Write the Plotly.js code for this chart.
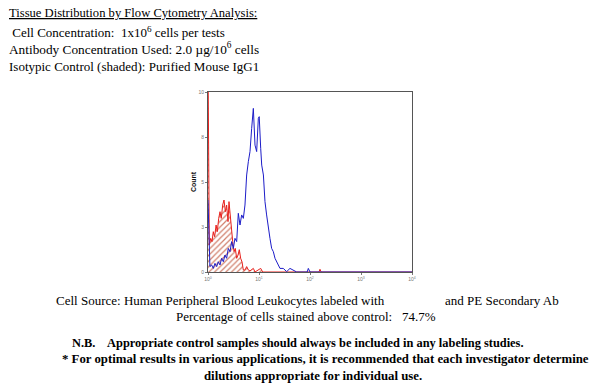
<!DOCTYPE html>
<html>
<head>
<meta charset="utf-8">
<script src="https://cdn.plot.ly/plotly-3.0.1.min.js"></script>
<style>html,body{margin:0;padding:0;background:#fff;}#chart{width:600px;height:386px;}</style>
</head>
<body>
<div id="chart"></div>
<script>
// Fluorescence intensity (log axis) and counts
const blueX = [1, 1.09, 1.18, 1.27, 1.37, 1.48, 1.59, 1.72, 1.85, 2.00, 2.15, 2.32, 2.50, 2.70, 2.91, 3.14, 3.38, 3.65, 3.93, 4.24, 4.57, 4.93, 5.31, 5.73, 6.18, 6.66, 7.18, 7.74, 8.35, 9.00, 9.70, 10.1, 10.8, 11.3, 12.2, 13.1, 14.1, 15.2, 16.4, 17.7, 19.1, 20.6, 22.2, 23.9, 25.8, 29.9, 34.9, 40.5, 47.1, 54.8, 88, 92.7, 100, 10000];
const blueY = [4.0, 0.30, 0.39, 0.20, 0.48, 0.30, 0.57, 0.39, 0.76, 0.57, 0.94, 0.76, 1.31, 1.13, 1.69, 1.31, 1.87, 1.69, 3.26, 2.61, 3.17, 2.98, 3.72, 5.39, 6.13, 6.69, 7.98, 9.09, 7.05, 6.69, 8.54, 8.63, 6.87, 5.94, 5.39, 3.91, 3.17, 2.43, 1.87, 1.31, 1.13, 0.76, 0.57, 0.39, 0.20, 0.20, 0.02, 0.20, 0.11, 0, 0, 0.2, 0, 0];
const redX = [1, 1.06, 1.13, 1.20, 1.27, 1.35, 1.44, 1.52, 1.62, 1.72, 1.82, 1.94, 2.06, 2.19, 2.32, 2.47, 2.58, 2.70, 2.86, 3.05, 3.24, 3.43, 3.65, 3.87, 4.11, 4.37, 4.64, 4.93, 5.31, 5.73, 6.18, 6.66, 7.74, 8.35, 10.8, 11.8, 150, 157, 165, 10000];
const redY = [12, 1.5, 1.87, 1.69, 2.24, 1.96, 2.61, 2.24, 2.98, 3.35, 2.98, 3.72, 4.0, 3.35, 3.72, 2.80, 3.91, 3.35, 2.24, 1.69, 1.13, 1.31, 0.76, 0.94, 1.24, 0.76, 0.57, 0.11, 0.11, 0.3, 0.11, 0.06, 0.2, 0, 0.2, 0, 0, 0.15, 0, 0];

const xTickVals = [1, 10, 100, 1000, 10000];
const xTickText = ['10<sup>0</sup>', '10<sup>1</sup>', '10<sup>2</sup>', '10<sup>3</sup>', '10<sup>4</sup>'];
const yTickVals = [0, 2.5, 5, 7.5, 10];
const yTickText = ['0', '3', '5', '8', '10'];

const headerLines = [
  '<u>Tissue Distribution by Flow Cytometry Analysis:</u>',
  ' Cell Concentration:  1x10<sup>6</sup> cells per tests',
  'Antibody Concentration Used: 2.0 \u00b5g/10<sup>6</sup> cells',
  'Isotypic Control (shaded): Purified Mouse IgG1'
];
const sourceLeft = 'Cell Source: Human Peripheral Blood Leukocytes labeled with';
const sourceRight = 'and PE Secondary Ab';
const percentLine = 'Percentage of cells stained above control:   74.7%';
const noteLines = [
  'N.B.    Appropriate control samples should always be included in any labeling studies.',
  '* For optimal results in various applications, it is recommended that each investigator determine',
  'dilutions appropriate for individual use.'
];

// plot area in pixels
const L = 208, R = 412, T = 92, B = 272;
const W = 600, H = 386;
function px(x) { return (x - L) / (R - L); }
function py(y) { return (B - y) / (B - T); }

const serif = 'Liberation Serif, Times New Roman, serif';
const anns = [];
const headerY = [13, 32, 49, 66];
const headerSize = [12.6, 13, 13.3, 13];
headerLines.forEach((t, i) => anns.push({
  text: t, xref: 'paper', yref: 'paper', x: px(7), y: py(headerY[i]),
  xanchor: 'left', yanchor: 'middle', showarrow: false,
  font: {family: serif, size: headerSize[i], color: '#000'}
}));
anns.push({text: sourceLeft, xref: 'paper', yref: 'paper', x: px(54), y: py(300), xanchor: 'left', yanchor: 'middle', showarrow: false, font: {family: serif, size: 13, color: '#000'}});
anns.push({text: sourceRight, xref: 'paper', yref: 'paper', x: px(443), y: py(300), xanchor: 'left', yanchor: 'middle', showarrow: false, font: {family: serif, size: 13, color: '#000'}});
anns.push({text: percentLine, xref: 'paper', yref: 'paper', x: px(174), y: py(316), xanchor: 'left', yanchor: 'middle', showarrow: false, font: {family: serif, size: 13, color: '#000'}});
const noteX = [70, 60, 313];
const noteY = [343, 359, 376];
const noteSize = [12.4, 12.8, 12.8];
const noteAnchor = ['left', 'left', 'center'];
noteLines.forEach((t, i) => anns.push({
  text: '<b>' + t + '</b>', xref: 'paper', yref: 'paper', x: px(noteX[i]), y: py(noteY[i]),
  xanchor: noteAnchor[i], yanchor: 'middle', showarrow: false,
  font: {family: serif, size: noteSize[i], color: '#000'}
}));

const traces = [
  {
    x: redX, y: redY, type: 'scatter', mode: 'lines',
    line: {color: '#e8201c', width: 1},
    fill: 'tozeroy',
    fillpattern: {shape: '/', fgcolor: '#d0806c', bgcolor: 'rgba(255,255,255,0)', size: 4, solidity: 0.3},
    hoverinfo: 'skip'
  },
  {
    x: blueX, y: blueY, type: 'scatter', mode: 'lines',
    line: {color: '#1c1cc8', width: 1},
    hoverinfo: 'skip'
  }
];

const layout = {
  width: W, height: H,
  margin: {l: L, r: W - R, t: T, b: H - B, pad: 0},
  paper_bgcolor: '#fff', plot_bgcolor: '#fff',
  showlegend: false,
  xaxis: {
    type: 'log', range: [0, 4], tickvals: xTickVals, ticktext: xTickText,
    showgrid: false, zeroline: false, showline: true, mirror: true,
    linecolor: '#555', linewidth: 1, ticks: 'outside', ticklen: 2, tickcolor: '#777',
    tickfont: {family: 'Liberation Sans, Arial', size: 5, color: '#777'}
  },
  yaxis: {
    range: [0, 10], tickvals: yTickVals, ticktext: yTickText,
    showgrid: false, zeroline: false, showline: true, mirror: true,
    linecolor: '#555', linewidth: 1, ticks: 'outside', ticklen: 2, tickcolor: '#777',
    tickfont: {family: 'Liberation Sans, Arial', size: 5, color: '#777'},
    title: {text: '<b>Count</b>', font: {family: 'Liberation Sans, Arial', size: 7, color: '#111'}, standoff: 0}
  },
  annotations: anns
};

Plotly.newPlot('chart', traces, layout, {staticPlot: true, displayModeBar: false});
</script>
</body>
</html>
